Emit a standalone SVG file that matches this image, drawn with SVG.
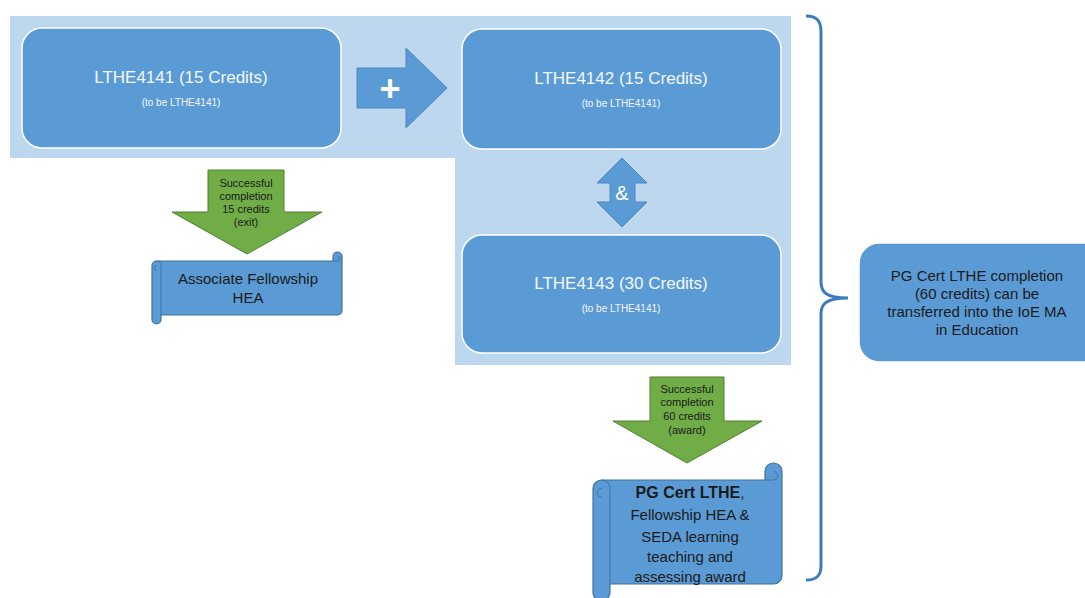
<svg xmlns="http://www.w3.org/2000/svg" width="1085" height="598" viewBox="0 0 1085 598">
<style>
.box{fill:#5B9BD5;stroke:#ffffff;stroke-width:1.5}
.blue{fill:#5B9BD5;stroke:#4A86C0;stroke-width:1}
.green{fill:#70AD47;stroke:#507E32;stroke-width:1}
.scroll{fill:#5B9BD5;stroke:#41719C;stroke-width:1.2}
.detail{fill:none;stroke:#41719C;stroke-width:1}
.wt{font-family:"Liberation Sans",Arial,sans-serif;fill:#F4F8FC;text-anchor:middle}
.dt{font-family:"Liberation Sans",Arial,sans-serif;fill:#1A1A1A;text-anchor:middle}
</style>
<rect width="1085" height="598" fill="#ffffff"/>
<g id="background">
<polygon points="10,16 791,16 791,365 455,365 455,158 10,158" fill="#BDD7EE"/>
</g>
<g id="node-lthe4141">
<rect class="box" x="22" y="28" width="319" height="120" rx="20"/>
<text class="wt" x="181" y="83" font-size="17">LTHE4141 (15 Credits)</text>
<text class="wt" x="181" y="106" font-size="10">(to be LTHE4141)</text>
</g>
<g id="node-lthe4142">
<rect class="box" x="462" y="29" width="319" height="120" rx="20"/>
<text class="wt" x="621" y="84" font-size="17">LTHE4142 (15 Credits)</text>
<text class="wt" x="621" y="107" font-size="10">(to be LTHE4141)</text>
</g>
<g id="node-lthe4143">
<rect class="box" x="462" y="235" width="319" height="118" rx="20"/>
<text class="wt" x="621" y="289" font-size="17">LTHE4143 (30 Credits)</text>
<text class="wt" x="621" y="312" font-size="10">(to be LTHE4141)</text>
</g>
<g id="connectors">
<g id="plus-arrow">
<polygon class="blue" points="357,68 406,68 406,48 447,88 406,128 406,108 357,108"/>
<text x="390" y="101" font-family="'Liberation Sans',Arial,sans-serif" font-size="36" font-weight="bold" fill="#ffffff" text-anchor="middle">+</text>
</g>
<g id="and-arrow">
<polygon class="blue" points="622,158 647,183 635,183 635,202 647,202 622,227 597,202 610,202 610,183 597,183"/>
<text x="622" y="200" font-family="'Liberation Sans',Arial,sans-serif" font-size="20" fill="#ffffff" text-anchor="middle">&amp;</text>
</g>
<g id="exit-arrow">
<polygon class="green" points="208,170 284,170 284,212 322,212 247,254 172,212 208,212"/>
<text class="dt" font-size="11"><tspan x="246" y="187">Successful</tspan><tspan x="246" y="200">completion</tspan><tspan x="246" y="213">15 credits</tspan><tspan x="246" y="226">(exit)</tspan></text>
</g>
<g id="award-arrow">
<polygon class="green" points="650,377 724,377 724,421 762,421 687,463 613,421 650,421"/>
<text class="dt" font-size="11"><tspan x="687" y="393">Successful</tspan><tspan x="687" y="406">completion</tspan><tspan x="687" y="420">60 credits</tspan><tspan x="687" y="434">(award)</tspan></text>
</g>
<g id="brace">
<path d="M806,16 C816,16 821,20 821,32 L821,282 C821,292 826,298 848,298 C826,298 821,304 821,314 L821,566 C821,576 816,580 806,580" fill="none" stroke="#3B7CC0" stroke-width="3"/>
</g>
</g>
<g id="node-associate">
<path class="scroll" d="M152,265.5 A4.5,4.5 0 0 1 156.5,261 L333,261 L333,256.5 A4.5,4.5 0 0 1 342,256.5 L342,310.5 A4.5,4.5 0 0 1 337.5,315 L161,315 L161,319.5 A4.5,4.5 0 0 1 152,319.5 Z"/>
<path class="detail" d="M333,261 L337.5,261 A2.25,2.25 0 0 0 337.5,256.5 M161,315 L161,265.5 A4.5,4.5 0 0 0 156.5,261 M156.5,270 A2.25,2.25 0 0 1 156.5,265.5"/>
<text class="dt" font-size="15"><tspan x="248" y="284">Associate Fellowship</tspan><tspan x="248" y="303">HEA</tspan></text>
</g>
<g id="node-pgcert">
<path class="scroll" d="M593,488.5 A8.5,8.5 0 0 1 601.5,480 L765,480 L765,471.5 A8.5,8.5 0 0 1 782,471.5 L782,575.5 A8.5,8.5 0 0 1 773.5,584 L610,584 L610,592.5 A8.5,8.5 0 0 1 593,592.5 Z"/>
<path class="detail" d="M765,480 L773.5,480 A4.25,4.25 0 0 0 773.5,471.5 M610,584 L610,488.5 A8.5,8.5 0 0 0 601.5,480 M601.5,497 A4.25,4.25 0 0 1 601.5,488.5"/>
<text class="dt" font-size="15"><tspan x="690" y="498"><tspan font-weight="bold" font-size="16">PG Cert LTHE</tspan>,</tspan><tspan x="690" y="520">Fellowship HEA &amp;</tspan><tspan x="690" y="542">SEDA learning</tspan><tspan x="690" y="562">teaching and</tspan><tspan x="690" y="582">assessing award</tspan></text>
</g>
<g id="node-transfer">
<rect class="box" x="859" y="243" width="250" height="119" rx="20" stroke="none"/>
<text class="dt" font-size="15"><tspan x="977" y="281">PG Cert LTHE completion</tspan><tspan x="977" y="299">(60 credits) can be</tspan><tspan x="977" y="317">transferred into the IoE MA</tspan><tspan x="977" y="335">in Education</tspan></text>
</g>
</svg>
